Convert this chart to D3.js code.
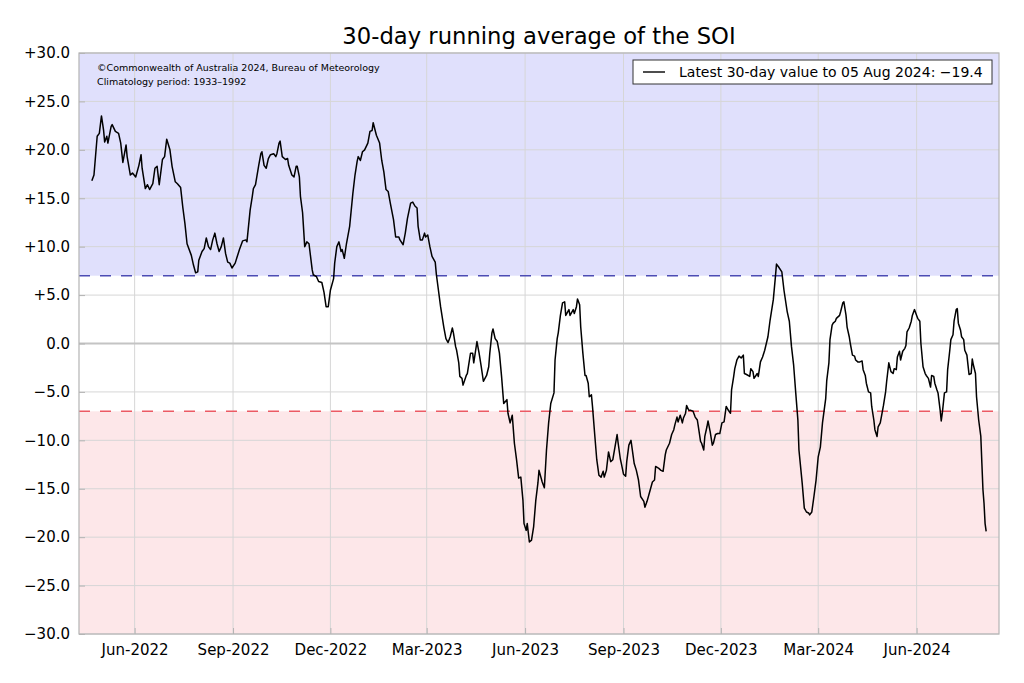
<!DOCTYPE html>
<html>
<head>
<meta charset="utf-8">
<script src="https://cdn.jsdelivr.net/npm/d3@7/dist/d3.min.js"></script>
<style>
  html, body { margin: 0; padding: 0; background: #fff; }
  svg { display: block; font-family: "DejaVu Sans", sans-serif; }
</style>
</head>
<body>
<div id="chart"></div>
<script>
// ---------- Data ----------
const START = '2022-04-22';          // first day of the series
const LATEST = '05 Aug 2024';
const LATEST_VALUE = -19.4;

// day offset from START
const days = [
  0, 2, 5, 7, 9, 11, 12, 14, 15, 18, 19, 22, 25, 27, 29, 32, 33, 36, 38, 41,
  44, 46, 47, 50, 52, 54, 57, 59, 61, 63, 66, 68, 70, 73, 75, 78, 80, 83, 85, 87,
  89, 93, 95, 97, 99, 100, 103, 105, 107, 109, 111, 113, 115, 117, 119, 121, 123, 125, 127, 129,
  131, 134, 136, 138, 141, 144, 145, 148, 150, 151, 153, 156, 158, 159, 161, 163, 165, 167, 170, 172,
  173, 175, 176, 178, 181, 183, 184, 187, 189, 191, 192, 194, 195, 197, 199, 201, 203, 206, 207, 210,
  212, 215, 217, 219, 221, 223, 226, 227, 229, 231, 233, 234, 236, 238, 241, 244, 246, 248, 249, 251,
  253, 255, 258, 260, 262, 263, 266, 269, 271, 273, 275, 277, 279, 282, 284, 287, 288, 291, 293, 295,
  298, 300, 302, 304, 305, 307, 309, 311, 312, 314, 316, 318, 321, 322, 324, 326, 329, 331, 333, 335,
  337, 338, 340, 341, 343, 344, 346, 347, 350, 351, 353, 354, 356, 357, 360, 362, 364, 366, 369, 371,
  372, 374, 375, 377, 379, 381, 383, 385, 388, 389, 391, 393, 395, 397, 399, 401, 403, 404, 406, 407,
  409, 411, 413, 415, 417, 418, 421, 423, 425, 427, 429, 432, 433, 435, 436, 438, 440, 442, 443, 446,
  447, 450, 451, 453, 454, 456, 457, 459, 461, 462, 464, 465, 467, 468, 470, 472, 474, 476, 478, 479,
  481, 483, 485, 487, 489, 491, 492, 494, 495, 497, 499, 500, 502, 504, 505, 507, 509, 511, 513, 516,
  517, 519, 522, 524, 526, 527, 530, 532, 534, 536, 537, 540, 542, 544, 545, 547, 548, 550, 552, 553,
  555, 556, 558, 560, 562, 564, 566, 567, 569, 570, 572, 573, 575, 576, 578, 580, 581, 583, 585, 587,
  589, 591, 593, 595, 597, 598, 600, 601, 603, 605, 607, 609, 610, 612, 615, 616, 618, 619, 622, 623,
  625, 627, 629, 632, 634, 637, 639, 640, 642, 645, 647, 650, 652, 654, 656, 658, 660, 661, 664, 666,
  668, 670, 671, 673, 675, 677, 679, 681, 683, 686, 687, 689, 690, 692, 693, 695, 696, 699, 700, 702,
  703, 705, 706, 708, 709, 711, 713, 714, 716, 718, 720, 721, 723, 724, 726, 728, 729, 731, 732, 734,
  735, 737, 738, 740, 742, 743, 745, 747, 749, 750, 752, 753, 755, 756, 758, 760, 761, 762, 764, 766,
  767, 769, 771, 772, 774, 775, 777, 779, 780, 782, 784, 785, 787, 788, 790, 791, 793, 794, 795, 797,
  799, 800, 802, 803, 805, 806, 808, 809, 810, 812, 813, 815, 816, 818, 819, 820, 822, 823, 824, 826,
  827, 829, 831, 832, 833, 834, 835, 836
];

// 30-day SOI value for each day above
const soi = [
  16.8, 17.4, 21.4, 21.7, 23.5, 22.0, 20.8, 21.4, 20.7, 22.4, 22.6, 21.9, 21.7, 20.7, 18.7, 20.5, 19.3, 17.4, 17.6, 17.2,
  18.4, 19.5, 18.1, 16.0, 16.4, 15.9, 16.5, 18.1, 18.3, 16.4, 19.0, 19.3, 21.1, 20.0, 18.3, 16.7, 16.5, 16.1, 14.1, 12.4,
  10.3, 9.1, 8.1, 7.3, 7.4, 8.6, 9.5, 9.8, 10.9, 10.0, 9.7, 10.7, 11.4, 10.3, 9.5, 10.0, 10.9, 9.3, 8.4, 8.3,
  7.8, 8.3, 9.0, 9.7, 10.6, 10.7, 10.5, 13.8, 15.2, 16.0, 16.4, 18.4, 19.6, 19.8, 18.4, 18.1, 19.1, 19.5, 19.6, 19.3,
  19.6, 20.7, 20.9, 19.3, 19.0, 19.1, 18.4, 17.4, 17.2, 18.3, 18.3, 17.2, 15.2, 13.5, 10.0, 10.5, 10.3, 7.6, 7.1, 6.9,
  6.4, 6.3, 5.3, 3.8, 3.8, 5.5, 6.7, 8.3, 10.0, 10.5, 9.5, 9.7, 8.8, 10.3, 12.1, 15.5, 17.4, 18.8, 19.3, 18.9,
  19.8, 20.0, 20.7, 21.9, 22.0, 22.8, 21.5, 20.7, 18.9, 17.7, 15.9, 15.7, 14.5, 12.8, 11.0, 11.0, 10.7, 10.2, 11.4, 12.9,
  14.5, 14.6, 14.2, 14.0, 12.1, 10.7, 10.7, 11.4, 11.0, 11.2, 10.0, 9.0, 8.4, 7.2, 5.5, 3.8, 1.7, 0.5, 0.1, 0.7,
  1.6, 1.1, -0.3, -0.7, -2.0, -3.4, -3.6, -4.3, -3.3, -3.1, -1.7, -1.0, -1.0, -2.0, 0.2, -1.0, -2.4, -3.9, -3.3, -2.4,
  -1.0, 1.1, 1.5, 0.5, 0.2, -1.0, -3.4, -6.2, -5.8, -7.2, -8.2, -7.4, -10.3, -12.0, -13.9, -13.8, -16.2, -18.6, -19.3, -18.6,
  -20.5, -20.3, -18.9, -16.2, -14.4, -13.1, -14.3, -14.9, -11.0, -8.2, -6.2, -5.1, -1.7, 0.5, 1.1, 2.9, 4.2, 4.3, 2.9, 3.5,
  2.9, 3.5, 3.1, 3.8, 4.6, 4.0, 1.7, -1.0, -3.3, -3.3, -4.1, -5.5, -5.3, -6.5, -9.3, -12.0, -13.6, -13.8, -13.2, -13.8,
  -13.1, -11.2, -12.2, -12.0, -10.7, -9.4, -10.3, -11.9, -12.4, -13.5, -13.7, -12.2, -10.5, -10.0, -10.8, -12.4, -13.1, -14.1, -15.8, -16.3,
  -16.9, -16.3, -15.1, -14.3, -14.1, -12.7, -12.9, -13.1, -13.2, -11.5, -11.0, -10.3, -9.4, -8.9, -8.4, -7.6, -8.1, -7.4, -8.2, -7.7,
  -7.2, -6.4, -6.9, -6.9, -7.0, -7.6, -7.9, -8.6, -10.1, -10.3, -11.0, -9.6, -8.6, -8.0, -9.1, -10.5, -10.3, -9.4, -9.3, -9.3,
  -8.2, -8.1, -6.5, -6.9, -7.2, -4.8, -3.4, -2.6, -1.7, -1.3, -1.5, -1.2, -3.1, -3.2, -3.4, -2.6, -2.9, -3.6, -3.1, -3.4,
  -1.9, -1.4, -0.7, 0.7, 2.4, 4.5, 6.9, 8.2, 7.9, 7.4, 5.5, 3.3, 2.3, -0.3, -2.2, -5.1, -7.9, -11.0, -14.4, -17.0,
  -17.4, -17.5, -17.7, -17.4, -15.8, -14.1, -11.7, -10.7, -8.2, -5.7, -3.8, -2.0, 0.4, 1.9, 2.1, 2.3, 2.6, 2.9, 3.3, 4.2,
  4.3, 2.9, 1.7, 0.7, 0.0, -1.2, -1.3, -1.7, -1.9, -1.9, -1.8, -2.7, -3.3, -4.1, -5.0, -5.1, -6.5, -7.9, -8.9, -9.6,
  -8.6, -8.2, -7.6, -6.4, -5.0, -3.9, -2.0, -2.9, -3.1, -2.6, -2.7, -1.4, -0.8, -1.7, -0.8, -0.5, -0.2, 1.2, 1.6, 2.3,
  2.9, 3.5, 2.9, 2.6, 2.3, 0.0, -2.4, -3.1, -3.3, -3.6, -4.5, -3.3, -3.4, -4.1, -4.8, -5.1, -6.9, -8.0, -7.2, -5.1,
  -5.0, -2.7, -0.7, 0.4, 0.9, 2.3, 3.5, 3.6, 2.1, 1.4, 0.7, 0.4, -0.7, -1.2, -2.2, -3.2, -3.1, -1.6, -2.2, -3.1,
  -5.5, -7.9, -9.6, -12.4, -15.1, -16.5, -18.6, -19.4
];

const yTicks = [-30, -25, -20, -15, -10, -5, 0, 5, 10, 15, 20, 25, 30];
const xTicks = ['2022-06-01', '2022-09-01', '2022-12-01', '2023-03-01', '2023-06-01',
                '2023-09-01', '2023-12-01', '2024-03-01', '2024-06-01'];
const xDomain = ['2022-04-10', '2024-08-17'];
const THRESH = 7;   // La Niña / El Niño guide lines at +7 / -7

// ---------- Layout ----------
const W = 1024, H = 683;
const M = { top: 53, right: 25, bottom: 49, left: 79 };
const iw = W - M.left - M.right;
const ih = H - M.top - M.bottom;

const parse = d3.utcParse('%Y-%m-%d');
const start = parse(START);
const series = days.map((d, i) => ({ date: d3.utcDay.offset(start, d), v: soi[i] }));

const x = d3.scaleUtc().domain(xDomain.map(parse)).range([0, iw]);
const y = d3.scaleLinear().domain([-30, 30]).range([ih, 0]);

const fmtY = v => (v > 0 ? '+' : v < 0 ? '\u2212' : '') + Math.abs(v).toFixed(1);
const fmtX = d3.utcFormat('%b-%Y');

const svg = d3.select('#chart').append('svg')
  .attr('width', W).attr('height', H)
  .attr('viewBox', `0 0 ${W} ${H}`);

const g = svg.append('g').attr('transform', `translate(${M.left},${M.top})`);

// background bands
g.append('rect')
  .attr('x', 0).attr('y', y(30))
  .attr('width', iw).attr('height', y(THRESH) - y(30))
  .attr('fill', '#e0e0fc');
g.append('rect')
  .attr('x', 0).attr('y', y(-THRESH))
  .attr('width', iw).attr('height', y(-30) - y(-THRESH))
  .attr('fill', '#fde7e9');

// grid
g.append('g').selectAll('line.hgrid')
  .data(yTicks.filter(t => t !== 0))
  .enter().append('line')
  .attr('x1', 0).attr('x2', iw)
  .attr('y1', d => y(d)).attr('y2', d => y(d))
  .attr('stroke', '#d6d6d6').attr('stroke-width', 1);

g.append('g').selectAll('line.vgrid')
  .data(xTicks.map(parse))
  .enter().append('line')
  .attr('x1', d => x(d)).attr('x2', d => x(d))
  .attr('y1', 0).attr('y2', ih)
  .attr('stroke', '#d6d6d6').attr('stroke-width', 1);

// zero line
g.append('line')
  .attr('x1', 0).attr('x2', iw)
  .attr('y1', y(0)).attr('y2', y(0))
  .attr('stroke', '#c4c4c4').attr('stroke-width', 2);

// threshold dashed lines
g.append('line')
  .attr('x1', 0).attr('x2', iw)
  .attr('y1', y(THRESH)).attr('y2', y(THRESH))
  .attr('stroke', '#4c4cb4').attr('stroke-width', 1.6)
  .attr('stroke-dasharray', '11,10');
g.append('line')
  .attr('x1', 0).attr('x2', iw)
  .attr('y1', y(-THRESH)).attr('y2', y(-THRESH))
  .attr('stroke', '#ec5a64').attr('stroke-width', 1.6)
  .attr('stroke-dasharray', '11,10');

// SOI line
const line = d3.line().x(d => x(d.date)).y(d => y(d.v));
g.append('path')
  .datum(series)
  .attr('d', line)
  .attr('fill', 'none')
  .attr('stroke', '#000')
  .attr('stroke-width', 1.5)
  .attr('stroke-linejoin', 'round');

// frame
g.append('rect')
  .attr('x', 0).attr('y', 0).attr('width', iw).attr('height', ih)
  .attr('fill', 'none').attr('stroke', '#b4b4b4').attr('stroke-width', 1.2);

// axes
const yAxis = d3.axisLeft(y).tickValues(yTicks).tickFormat(fmtY).tickSizeInner(-6).tickSizeOuter(0).tickPadding(9);
const xAxis = d3.axisBottom(x).tickValues(xTicks.map(parse)).tickFormat(fmtX).tickSizeInner(-6).tickSizeOuter(0).tickPadding(10);

const ya = g.append('g').call(yAxis);
const xa = g.append('g').attr('transform', `translate(0,${ih})`).call(xAxis);
[ya, xa].forEach(a => {
  a.select('.domain').remove();
  a.selectAll('.tick line').attr('stroke', '#b4b4b4');
  a.selectAll('.tick text')
    .attr('fill', '#000')
    .style('font-family', '"DejaVu Sans", sans-serif')
    .style('font-size', '15px');
});

// copyright note
g.append('text')
  .attr('x', 18).attr('y', 18)
  .style('font-size', '9.5px')
  .text('\u00A9Commonwealth of Australia 2024, Bureau of Meteorology');
g.append('text')
  .attr('x', 18).attr('y', 32)
  .style('font-size', '9.5px')
  .text('Climatology period: 1933\u20131992');

// legend
const lg = g.append('g').attr('transform', `translate(${iw - 366},7)`);
lg.append('rect')
  .attr('width', 359).attr('height', 24)
  .attr('fill', '#fff').attr('stroke', '#333').attr('stroke-width', 1);
lg.append('line')
  .attr('x1', 10).attr('x2', 32).attr('y1', 12).attr('y2', 12)
  .attr('stroke', '#000').attr('stroke-width', 1.4);
lg.append('text')
  .attr('x', 46).attr('y', 17)
  .style('font-size', '14px')
  .text(`Latest 30-day value to ${LATEST}: ${fmtY(LATEST_VALUE).replace('+', '')}`);

// title
svg.append('text')
  .attr('x', M.left + iw / 2).attr('y', 44)
  .attr('text-anchor', 'middle')
  .style('font-size', '22.7px')
  .text('30-day running average of the SOI');
</script>
</body>
</html>
